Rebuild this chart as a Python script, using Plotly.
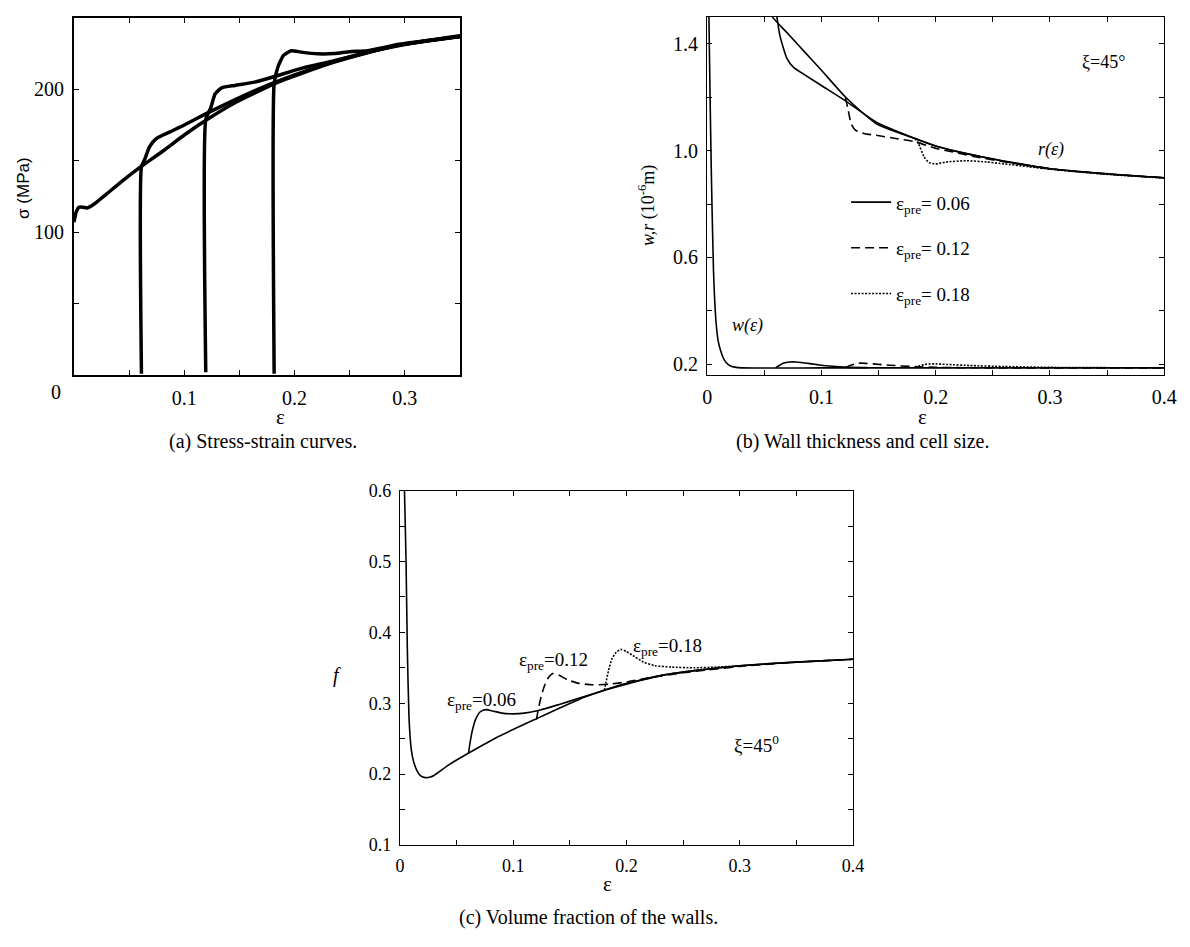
import plotly.graph_objects as go

W, H = 1190, 947
def px(x): return x / W
def py(y): return 1 - y / H

SERIF = "Liberation Serif"
SANS = "Liberation Sans"

# ---------------- Panel (a) data: stress-strain ----------------
a_eps_base = [0, 0.002, 0.0045, 0.008, 0.012, 0.016, 0.022, 0.03, 0.042, 0.061, 0.081, 0.1, 0.121, 0.146,
              0.182, 0.206, 0.236, 0.266, 0.295, 0.32, 0.35]
a_sig_base = [107, 114, 117.5, 117.5, 117, 118.5, 122, 127, 134.7, 146, 157, 168, 179, 190.6,
              204, 211, 219, 225.6, 230.6, 234, 237]

a_eps_06 = [0.0612, 0.0612, 0.064, 0.0686, 0.0746, 0.0865, 0.1, 0.119, 0.14, 0.17, 0.2, 0.23, 0.26, 0.295, 0.35]
a_sig_06 = [1, 146, 150.7, 159.8, 165.5, 170, 175, 182.6, 190.5, 201, 210, 218, 224.5, 231, 237.5]

a_eps_12 = [0.1195, 0.1195, 0.124, 0.128, 0.134, 0.146, 0.164, 0.182, 0.206, 0.236, 0.266, 0.295, 0.35]
a_sig_12 = [2, 179, 187, 196.8, 201, 202.7, 205, 209, 214.6, 220, 226, 231, 237]

a_eps_18 = [0.1815, 0.1815, 0.185, 0.19, 0.197, 0.206, 0.221, 0.236, 0.25, 0.266, 0.295, 0.35]
a_sig_18 = [1, 204, 215.8, 223.7, 227, 226, 224.8, 225, 226.3, 227, 231.5, 237]

a_xtick_vals = [0.1, 0.2, 0.3]
a_xtick_text = ["0.1", "0.2", "0.3"]
a_xminor = [0.05, 0.15, 0.25]
a_ytick_vals = [100, 200]
a_ytick_text = ["100", "200"]
a_yminor = [50, 150]

# ---------------- Panel (b) data: wall thickness & cell size ----------------
b_eps_r = [0.05, 0.057, 0.07, 0.085, 0.1, 0.121, 0.135, 0.148, 0.165, 0.182, 0.2, 0.22, 0.24, 0.27, 0.3, 0.35, 0.4]
b_r = [1.56, 1.50, 1.44, 1.37, 1.30, 1.20, 1.145, 1.10, 1.07, 1.045, 1.017, 0.995, 0.977, 0.952, 0.932, 0.912, 0.898]

b_eps_r06 = [0.061, 0.0636, 0.0697, 0.0758, 0.085, 0.103, 0.121, 0.148, 0.179, 0.2, 0.24, 0.3, 0.4]
b_r06 = [1.50, 1.43, 1.345, 1.31, 1.284, 1.235, 1.186, 1.106, 1.05, 1.017, 0.977, 0.932, 0.898]

b_eps_r12 = [0.121, 0.123, 0.126, 0.13, 0.138, 0.148, 0.165, 0.182, 0.2, 0.215, 0.233, 0.26, 0.3, 0.35, 0.4]
b_r12 = [1.198, 1.16, 1.10, 1.075, 1.063, 1.057, 1.045, 1.033, 1.008, 0.995, 0.978, 0.958, 0.932, 0.912, 0.898]

b_eps_r18 = [0.182, 0.185, 0.19, 0.194, 0.2, 0.209, 0.227, 0.245, 0.26, 0.28, 0.3, 0.35, 0.4]
b_r18 = [1.045, 1.025, 0.975, 0.955, 0.95, 0.957, 0.962, 0.957, 0.95, 0.94, 0.93, 0.911, 0.897]

b_eps_w = [0.001, 0.0015, 0.0025, 0.0036, 0.0055, 0.0076, 0.0095, 0.0115, 0.014, 0.0167, 0.02, 0.024, 0.03, 0.1, 0.2, 0.3, 0.4]
b_w = [1.6, 1.5, 1.2, 0.92, 0.55, 0.365, 0.29, 0.255, 0.225, 0.206, 0.195, 0.19, 0.187, 0.187, 0.187, 0.187, 0.187]

b_eps_w06 = [0.06, 0.063, 0.067, 0.072, 0.078, 0.09, 0.1, 0.11, 0.12, 0.14]
b_w06 = [0.187, 0.196, 0.205, 0.209, 0.209, 0.203, 0.197, 0.193, 0.19, 0.188]

b_eps_w12 = [0.121, 0.125, 0.13, 0.135, 0.145, 0.16, 0.18, 0.2, 0.25, 0.4]
b_w12 = [0.188, 0.196, 0.203, 0.205, 0.202, 0.197, 0.192, 0.189, 0.187, 0.187]

b_eps_w18 = [0.182, 0.186, 0.192, 0.2, 0.21, 0.23, 0.26, 0.3, 0.4]
b_w18 = [0.188, 0.195, 0.201, 0.202, 0.2, 0.196, 0.192, 0.189, 0.187]

b_xtick_vals = [0, 0.1, 0.2, 0.3, 0.4]
b_xtick_text = ["0", "0.1", "0.2", "0.3", "0.4"]
b_xminor = [0.05, 0.15, 0.25, 0.35]
b_ytick_vals = [0.2, 0.6, 1.0, 1.4]
b_ytick_text = ["0.2", "0.6", "1.0", "1.4"]
b_yminor = [0.4, 0.8, 1.2]

# ---------------- Panel (c) data: volume fraction ----------------
c_eps = [0.0035, 0.004, 0.0054, 0.0065, 0.008, 0.01, 0.012, 0.015, 0.018, 0.0226, 0.027, 0.03, 0.044, 0.06,
         0.087, 0.119, 0.159, 0.195, 0.23, 0.26, 0.302, 0.35, 0.4]
c_f = [0.62, 0.6, 0.5, 0.38, 0.28, 0.235, 0.218, 0.205, 0.198, 0.195, 0.196, 0.198, 0.214, 0.229,
       0.253, 0.277, 0.306, 0.326, 0.339, 0.346, 0.353, 0.358, 0.362]

c_eps_06 = [0.0605, 0.062, 0.064, 0.067, 0.071, 0.076, 0.082, 0.09, 0.1, 0.11, 0.123, 0.14, 0.16, 0.18,
            0.2, 0.23, 0.26, 0.3, 0.35, 0.4]
c_f_06 = [0.229, 0.245, 0.262, 0.278, 0.288, 0.291, 0.289, 0.286, 0.285, 0.286, 0.29, 0.298, 0.308, 0.318,
          0.327, 0.339, 0.346, 0.353, 0.358, 0.362]

c_eps_12 = [0.1205, 0.122, 0.124, 0.127, 0.131, 0.135, 0.14, 0.148, 0.158, 0.17, 0.185, 0.2, 0.22, 0.25,
            0.3, 0.35, 0.4]
c_f_12 = [0.277, 0.29, 0.305, 0.322, 0.336, 0.342, 0.34, 0.333, 0.328, 0.326, 0.327, 0.33, 0.336, 0.343,
          0.352, 0.358, 0.362]

c_eps_18 = [0.1805, 0.182, 0.184, 0.187, 0.191, 0.195, 0.2, 0.207, 0.215, 0.225, 0.24, 0.26, 0.28, 0.3]
c_f_18 = [0.318, 0.33, 0.345, 0.362, 0.372, 0.376, 0.373, 0.366, 0.358, 0.353, 0.351, 0.35, 0.351, 0.353]

c_xtick_vals = [0, 0.1, 0.2, 0.3, 0.4]
c_xtick_text = ["0", "0.1", "0.2", "0.3", "0.4"]
c_xminor = [0.05, 0.15, 0.25, 0.35]
c_ytick_vals = [0.1, 0.2, 0.3, 0.4, 0.5, 0.6]
c_ytick_text = ["0.1", "0.2", "0.3", "0.4", "0.5", "0.6"]
c_yminor = [0.15, 0.25, 0.35, 0.45, 0.55]

legend_labels = ["ε<sub>pre</sub>= 0.06", "ε<sub>pre</sub>= 0.12", "ε<sub>pre</sub>= 0.18"]

fig = go.Figure()

# Panel a traces
for xs, ys in [(a_eps_base, a_sig_base), (a_eps_06, a_sig_06), (a_eps_12, a_sig_12), (a_eps_18, a_sig_18)]:
    fig.add_trace(go.Scatter(x=xs, y=ys, mode="lines", xaxis="x", yaxis="y", showlegend=False,
                             line=dict(color="black", width=3.5, shape="spline", smoothing=0.5)))

# Panel b traces
LW = 1.6
fig.add_trace(go.Scatter(x=b_eps_w, y=b_w, mode="lines", xaxis="x2", yaxis="y2", showlegend=False,
                         line=dict(color="black", width=LW, shape="spline", smoothing=0.5)))
fig.add_trace(go.Scatter(x=b_eps_r, y=b_r, mode="lines", xaxis="x2", yaxis="y2", showlegend=False,
                         line=dict(color="black", width=LW, shape="spline", smoothing=0.5)))
styles = ["solid", "9px,5px", "2px,1.5px"]
b_sets = [(b_eps_r06, b_r06, b_eps_w06, b_w06), (b_eps_r12, b_r12, b_eps_w12, b_w12),
          (b_eps_r18, b_r18, b_eps_w18, b_w18)]
for i, (xr, yr, xw, yw) in enumerate(b_sets):
    fig.add_trace(go.Scatter(x=xr, y=yr, mode="lines", xaxis="x2", yaxis="y2", name=legend_labels[i],
                             legendgroup=f"g{i}", showlegend=True,
                             line=dict(color="black", width=LW, dash=styles[i], shape="spline", smoothing=0.5)))
    fig.add_trace(go.Scatter(x=xw, y=yw, mode="lines", xaxis="x2", yaxis="y2", legendgroup=f"g{i}",
                             showlegend=False,
                             line=dict(color="black", width=LW, dash=styles[i], shape="spline", smoothing=0.5)))

# Panel c traces
fig.add_trace(go.Scatter(x=c_eps, y=c_f, mode="lines", xaxis="x3", yaxis="y3", showlegend=False,
                         line=dict(color="black", width=LW, shape="spline", smoothing=0.5)))
for i, (xs, ys) in enumerate([(c_eps_06, c_f_06), (c_eps_12, c_f_12), (c_eps_18, c_f_18)]):
    fig.add_trace(go.Scatter(x=xs, y=ys, mode="lines", xaxis="x3", yaxis="y3", showlegend=False,
                             line=dict(color="black", width=LW, dash=styles[i], shape="spline", smoothing=0.5)))

def axis(domain, rng, vals, text, minor_vals, anchor, lw, fs):
    return dict(domain=domain, range=rng, tickvals=vals, ticktext=text, anchor=anchor,
                showline=True, mirror="ticks", linecolor="black", linewidth=lw, ticks="inside",
                ticklen=5, tickcolor="black", tickwidth=1, showgrid=False, zeroline=False,
                tickfont=dict(family=SERIF, size=fs, color="black"), ticklabelstandoff=4,
                minor=dict(tickvals=minor_vals, ticks="inside", ticklen=5, tickcolor="black",
                           tickwidth=1, showgrid=False))

fig.update_layout(
    width=W, height=H, margin=dict(l=0, r=0, t=0, b=0),
    paper_bgcolor="white", plot_bgcolor="white",
    xaxis=axis([px(70), px(462)], [0, 0.35], a_xtick_vals, a_xtick_text, a_xminor, "y", 2, 20),
    yaxis=axis([py(373), py(8)], [0, 250], a_ytick_vals, a_ytick_text, a_yminor, "x", 2, 20),
    xaxis2=axis([px(713), px(1177)], [0, 0.4], b_xtick_vals, b_xtick_text, b_xminor, "y2", 1.2, 20),
    yaxis2=axis([py(373), py(7)], [0.16, 1.5], b_ytick_vals, b_ytick_text, b_yminor, "x2", 1.2, 20),
    xaxis3=axis([px(401), px(861)], [0, 0.4], c_xtick_vals, c_xtick_text, c_xminor, "y3", 1.2, 18),
    yaxis3=axis([py(853), py(491)], [0.1, 0.6], c_ytick_vals, c_ytick_text, c_yminor, "x3", 1.2, 18),
    legend=dict(x=px(854), y=py(177), xanchor="left", yanchor="top", bgcolor="rgba(0,0,0,0)",
                font=dict(family=SERIF, size=19, color="black"), tracegroupgap=18, itemwidth=40),
)

def ann(text, x, y, size=19, family=SERIF, angle=0, xref="paper", yref="paper", xanchor="center"):
    fig.add_annotation(text=text, x=x, y=y, xref=xref, yref=yref, showarrow=False, textangle=angle,
                       font=dict(family=family, size=size, color="black"), xanchor=xanchor, yanchor="middle")

# Panel a texts
ann("0", px(52), py(390), size=20)
ann("σ (MPa)", px(18), py(182), size=17, family=SANS, angle=-90)
ann("ε", px(280), py(416), size=21)
ann("(a) Stress-strain curves.", px(262), py(441), size=20)
# Panel b texts
ann("<i>w,r</i> (10<sup>-6</sup>m)", px(652), py(200), size=18, angle=-90)
ann("ε", px(932), py(416), size=21)
ann("(b) Wall thickness and cell size.", px(871), py(441), size=20)
ann("ξ=45°", px(1115), py(53), size=18)
ann("<i>r(ε)</i>", px(1062), py(143), size=18)
ann("<i>w(ε)</i>", px(754), py(322), size=18)
# Panel c texts
ann("<i>f</i>", px(337), py(680), size=20)
ann("ε", px(612), py(893), size=21)
ann("(c) Volume fraction of the walls.", px(592), py(927), size=20)
ann("ε<sub>pre</sub>=0.06", 0.072, 0.303, size=19, xref="x3", yref="y3")
ann("ε<sub>pre</sub>=0.12", 0.136, 0.359, size=19, xref="x3", yref="y3")
ann("ε<sub>pre</sub>=0.18", 0.236, 0.380, size=19, xref="x3", yref="y3")
ann("ξ=45<sup>0</sup>", 0.315, 0.243, size=19, xref="x3", yref="y3")

fig.write_html("out.html")
